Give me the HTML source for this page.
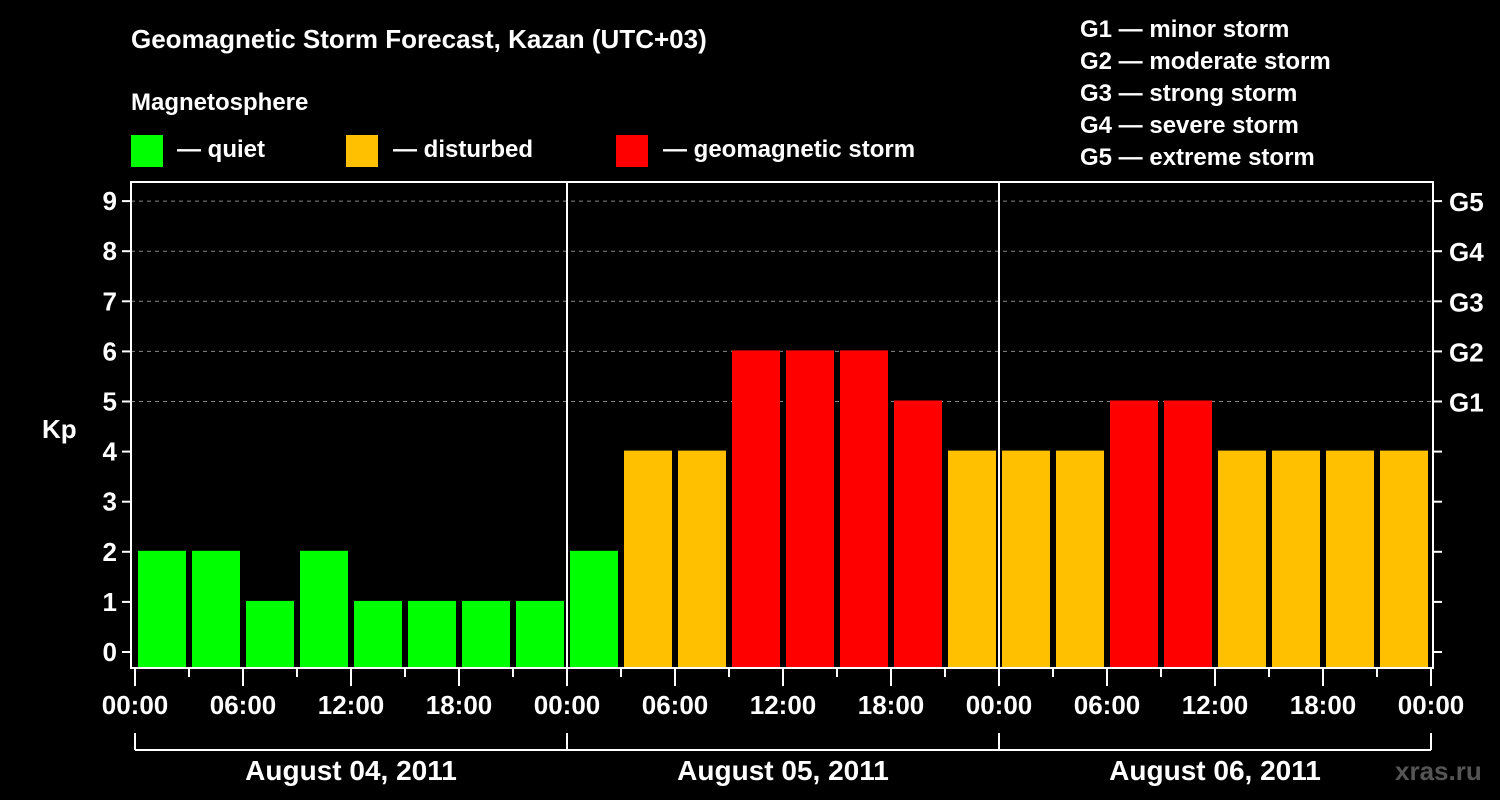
<!DOCTYPE html>
<html><head><meta charset="utf-8"><style>
html,body{margin:0;padding:0;background:#000;width:1500px;height:800px;overflow:hidden}
svg{display:block;font-family:"Liberation Sans",Arial,sans-serif;font-weight:bold}
</style></head><body>
<svg id="c" width="1500" height="800">
<rect width="1500" height="800" fill="#000"/>
<text x="131" y="48" fill="#fff" font-size="26">Geomagnetic Storm Forecast, Kazan (UTC+03)</text>
<text x="131" y="110" fill="#fff" font-size="24">Magnetosphere</text>
<rect x="131" y="135" width="32" height="32" fill="#00ff00"/>
<text x="177" y="157" fill="#fff" font-size="24">— quiet</text>
<rect x="346" y="135" width="32" height="32" fill="#ffc000"/>
<text x="393" y="157" fill="#fff" font-size="24">— disturbed</text>
<rect x="616" y="135" width="32" height="32" fill="#ff0000"/>
<text x="663" y="157" fill="#fff" font-size="24">— geomagnetic storm</text>
<g fill="#fff" font-size="24">
<text x="1080" y="37">G1 — minor storm</text>
<text x="1080" y="69">G2 — moderate storm</text>
<text x="1080" y="101">G3 — strong storm</text>
<text x="1080" y="133">G4 — severe storm</text>
<text x="1080" y="165">G5 — extreme storm</text>
</g>
<text x="42" y="438" fill="#fff" font-size="26">Kp</text>
<text x="1395" y="780" fill="#555" font-size="26">xras.ru</text>
<g id="plot"></g>
</svg>
<script>
const kpValues = [2,2,1,2,1,1,1,1, 2,4,4,6,6,6,5,4, 4,4,5,5,4,4,4,4];
const dayLabels = ["August 04, 2011","August 05, 2011","August 06, 2011"];
const hourLabels = ["00:00","06:00","12:00","18:00"];
const yTicks = [0,1,2,3,4,5,6,7,8,9];
const gLabels = ["G1","G2","G3","G4","G5"];
const gLevels = [5,6,7,8,9];

const NS="http://www.w3.org/2000/svg";
const g=document.getElementById('plot');
const X0=135, DAYW=432, L=131, R=1433, T=182, B=668;
const xs=h=>X0+h*DAYW/24;
const ys=v=>652-v*50.1;
function mk(tag,at,parent){const e=document.createElementNS(NS,tag);for(const k in at)e.setAttribute(k,at[k]);(parent||g).appendChild(e);return e;}
function col(v){return v>=5?"#ff0000":(v>=4?"#ffc000":"#00ff00");}

// grid
gLevels.forEach(v=>{
  const l=mk('line',{x1:L,x2:R,y1:ys(v),y2:ys(v),stroke:"#888","stroke-width":1,"stroke-dasharray":"4,4"});
  
  
});
// bars
kpValues.forEach((v,i)=>{
  const x=xs(i*3)+3, w=DAYW/8-6;
  const r=mk('rect',{x:x,y:ys(v)-1,width:w,height:B-1-(ys(v)-1),fill:col(v)});
  
  
});
// day separators
for(let d=1;d<dayLabels.length;d++){
  const l=mk('line',{x1:xs(d*24),x2:xs(d*24),y1:T,y2:B,stroke:"#fff","stroke-width":2});
  
  
}
// frame
const fr=mk('rect',{x:L,y:T,width:R-L,height:B-T,fill:"none",stroke:"#fff","stroke-width":2});


// y ticks
yTicks.forEach(v=>{
  const y=ys(v);
  mk('line',{x1:L-9,x2:L,y1:y,y2:y,stroke:"#fff","stroke-width":2});
  mk('line',{x1:R,x2:R+9,y1:y,y2:y,stroke:"#fff","stroke-width":2});
  const t=mk('text',{x:L-14,y:y+9,fill:"#fff","font-size":26,"text-anchor":"end"});
  t.textContent=v;
  
  
});
gLabels.forEach((s,i)=>{
  const t=mk('text',{x:R+16,y:ys(gLevels[i])+10,fill:"#fff","font-size":26});
  t.textContent=s;
  
  
});
// x ticks
const totalH=dayLabels.length*24;
for(let h=0;h<=totalH;h+=3){
  const major=h%6===0;
  mk('line',{x1:xs(h),x2:xs(h),y1:B,y2:B+(major?18:9),stroke:"#fff","stroke-width":2});
  if(major){
    const t=mk('text',{x:xs(h),y:B+46,fill:"#fff","font-size":26,"text-anchor":"middle"});
    t.textContent=hourLabels[(h/6)%4];
    
    
  }
}
// day bracket
mk('line',{x1:xs(0),x2:xs(totalH),y1:750,y2:750,stroke:"#fff","stroke-width":2});
for(let d=0;d<=dayLabels.length;d++) mk('line',{x1:xs(d*24),x2:xs(d*24),y1:733,y2:750,stroke:"#fff","stroke-width":2});
dayLabels.forEach((s,d)=>{
  const t=mk('text',{x:xs(d*24+12),y:780,fill:"#fff","font-size":28,"text-anchor":"middle"});
  t.textContent=s;
  
  
});
</script>
</body></html>
